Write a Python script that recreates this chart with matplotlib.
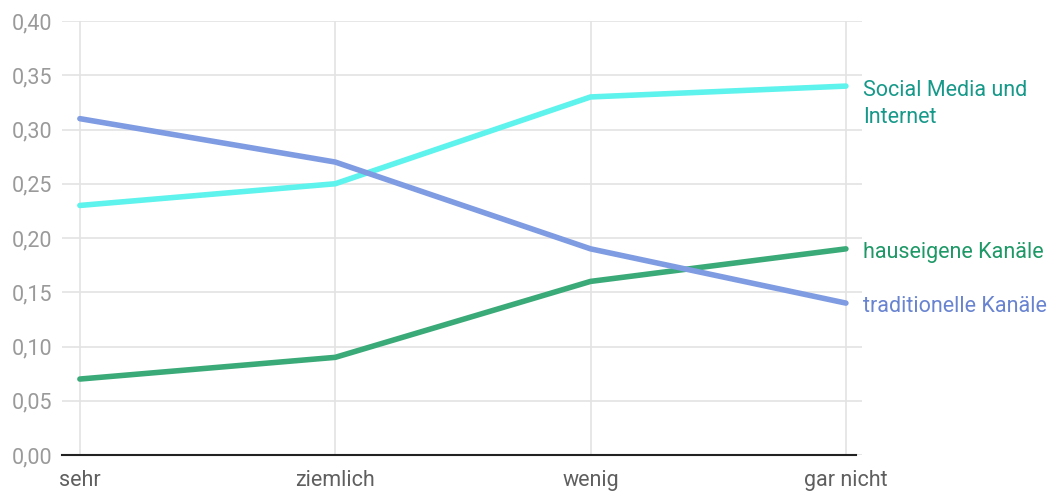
import matplotlib.pyplot as plt
from matplotlib.ticker import FuncFormatter

plt.rcParams['font.family'] = ['Roboto', 'DejaVu Sans']

categories = ['sehr', 'ziemlich', 'wenig', 'gar nicht']
social = [0.23, 0.25, 0.33, 0.34]
traditional = [0.31, 0.27, 0.19, 0.14]
hauseigene = [0.07, 0.09, 0.16, 0.19]
yticks = [0.0, 0.05, 0.10, 0.15, 0.20, 0.25, 0.30, 0.35, 0.40]

series = [
    ('Social Media und\nInternet', social, '#5ef3ec', '#17998a', -12.7),
    ('hauseigene Kanäle', hauseigene, '#3aaa78', '#1d9866', -2.3),
    ('traditionelle Kanäle', traditional, '#7f9be2', '#6883d0', -2.3),
]

fig = plt.figure(figsize=(10.53, 4.91), dpi=100)
ax = fig.add_axes([62 / 1053, 1 - 455 / 491, 800 / 1053, 434 / 491])

x = list(range(len(categories)))
for name, vals, col, tcol, dy in series:
    ax.plot(x, vals, color=col, lw=4, solid_capstyle='round', zorder=3)
    ax.annotate(name, xy=(1.0, vals[-1]), xycoords=('axes fraction', 'data'),
                xytext=(0.5, dy), textcoords='offset points',
                ha='left', va='center',
                color=tcol, fontsize=15.5, linespacing=1.38)

ax.set_xlim(-0.07, 3.063)
ax.set_ylim(0, 0.40)
ax.set_xticks(x)
ax.set_xticklabels(categories)
ax.set_yticks(yticks)
ax.yaxis.set_major_formatter(FuncFormatter(lambda v, p: f'{v:.2f}'.replace('.', ',')))

ax.grid(True, color='#e3e3e3', lw=1.2, zorder=0)
for s in ['top', 'right', 'left']:
    ax.spines[s].set_visible(False)
ax.spines['bottom'].set_color('#222222')
ax.spines['bottom'].set_linewidth(1.5)
ax.spines['bottom'].set_bounds(-0.07, 3.04)

ax.tick_params(axis='y', length=0, pad=7, labelsize=15.5, labelcolor='#9a9a9a')
ax.tick_params(axis='x', length=0, pad=10.5, labelsize=15.5, labelcolor='#5f5f5f')

fig.savefig('out.png', dpi=100)
